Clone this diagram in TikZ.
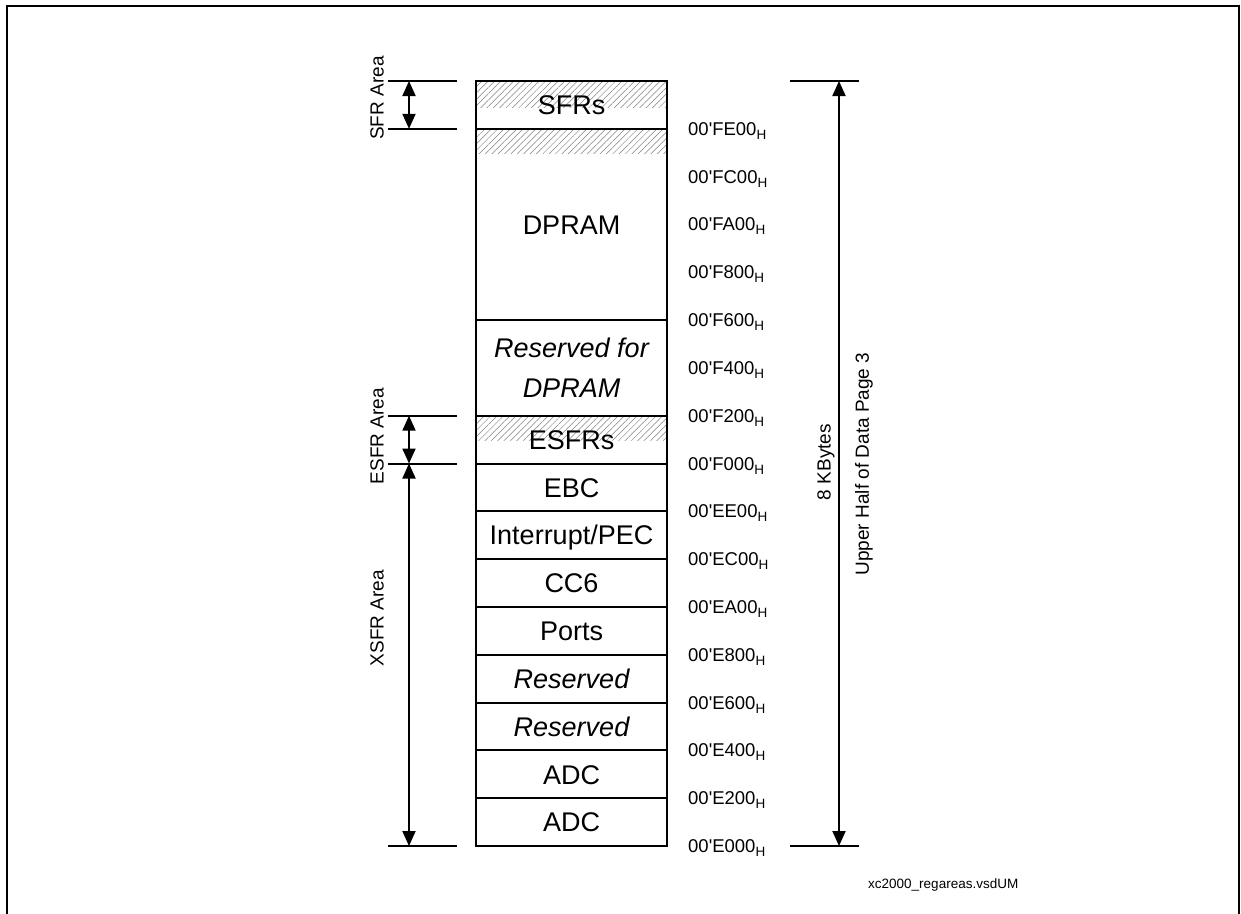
\documentclass[tikz,border=0pt]{standalone}
\usepackage{fontspec}
\setmainfont{Liberation Sans}
\usetikzlibrary{arrows.meta,patterns.meta}
\newcommand{\addrlbl}[1]{00\textquotesingle #1{\fontsize{13.5}{13.5}\selectfont\raisebox{-4pt}{H}}}
\begin{document}
\begin{tikzpicture}[x=1pt,y=-1pt,
  rowbase/.style={draw,line width=2pt,minimum width=191pt,inner sep=0pt,font=\fontsize{27}{32}\selectfont},
  row/.style={rowbase,minimum height=47.81pt,text height=19.5pt,text depth=0pt},
  hatch/.style={pattern={Lines[angle=45,distance=4.5pt,line width=0.5pt]},pattern color=black!50},
  tick/.style={line width=2pt},
  dim/.style={line width=2pt,{Triangle[length=15pt,width=13pt]}-{Triangle[length=15pt,width=13pt]}},
  side/.style={rotate=90,font=\fontsize{19}{22}\selectfont,inner sep=0pt},
  addr/.style={anchor=base west,inner sep=0pt,font=\fontsize{18.5}{20}\selectfont}]
\useasboundingbox (0,0) rectangle (1241,913);
% frame
\draw[line width=1.6pt] (7,930) -- (7,6) -- (1239,6) -- (1239,930);
% hatching
\path[hatch] (476,81) rectangle (667,107);
\path[hatch] (476,129) rectangle (667,153);
\path[hatch] (476,416) rectangle (667,440);
% memory rows
\node[row] (sfr) at (571.5,104.9) {SFRs};
\node[rowbase,minimum height=191.25pt,text height=19.5pt,text depth=0pt] (dpram) at (571.5,224.44) {DPRAM};
\node[rowbase,minimum height=95.63pt,align=center,font=\fontsize{27}{40}\selectfont\itshape] (resdp) at (571.5,367.88) {Reserved for\\DPRAM};
\node[row] (esfr) at (571.5,439.6) {ESFRs};
\node[row] (ebc) at (571.5,487.4) {EBC};
\node[row] (intr) at (571.5,535.2) {Interrupt/PEC};
\node[row] (cc6) at (571.5,583.0) {CC6};
\node[row] (ports) at (571.5,630.8) {Ports};
\node[row,font=\fontsize{27}{32}\selectfont\itshape] (res1) at (571.5,678.7) {Reserved};
\node[row,font=\fontsize{27}{32}\selectfont\itshape] (res2) at (571.5,726.5) {Reserved};
\node[row] (adc1) at (571.5,774.3) {ADC};
\node[row] (adc2) at (571.5,822.1) {ADC};
% address labels
\foreach \k/\a in {1/FE00,2/FC00,3/FA00,4/F800,5/F600,6/F400,7/F200,8/F000,9/EE00,10/EC00,11/EA00,12/E800,13/E600,14/E400,15/E200,16/E000}{
  \node[addr] (a\k) at (688,{81+47.8125*\k+6.5}) {\addrlbl{\a}};
}
% left ticks
\draw[tick] (388,81) -- (457,81);
\draw[tick] (388,128.81) -- (457,128.81);
\draw[tick] (388,415.69) -- (457,415.69);
\draw[tick] (388,463.5) -- (457,463.5);
\draw[tick] (388,846) -- (457,846);
% right ticks
\draw[tick] (790,81) -- (859,81);
\draw[tick] (790,846) -- (859,846);
% dimension arrows
\coordinate (s1) at (409,81);
\coordinate (s2) at (409,128.81);
\coordinate (e1) at (409,415.69);
\coordinate (e2) at (409,463.5);
\coordinate (x2) at (409,846);
\coordinate (r1) at (839,81);
\coordinate (r2) at (839,846);
\draw[dim] (s1) -- (s2);
\draw[dim] (e1) -- (e2);
\draw[dim] (e2) -- (x2);
\draw[dim] (r1) -- (r2);
% side labels
\node[side] (sfrlbl) at (377,98) {SFR Area};
\node[side] (esfrlbl) at (377,436) {ESFR Area};
\node[side] (xsfrlbl) at (377,618) {XSFR Area};
\node[side] (kb) at (826,462) {8 KBytes};
\node[side] (uh) at (864,464) {Upper Half of Data Page 3};
% footer
\node[font=\fontsize{13.5}{16}\selectfont,anchor=west,inner sep=0pt] (foot) at (868,885) {xc2000\_regareas.vsdUM};
\end{tikzpicture}
\end{document}
